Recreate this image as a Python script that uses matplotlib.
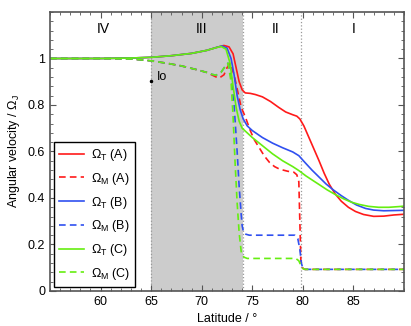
import matplotlib
matplotlib.use('Agg')
import matplotlib.pyplot as plt
from matplotlib.ticker import MultipleLocator, FormatStrFormatter

plt.rcParams['font.family'] = ['Liberation Sans', 'DejaVu Sans']
plt.rcParams['mathtext.fontset'] = 'custom'
plt.rcParams['mathtext.rm'] = 'Liberation Sans'
plt.rcParams['mathtext.it'] = 'Liberation Sans'
plt.rcParams['font.size'] = 9

# Omega_T, solid lines
lat_TA = [55, 60, 63, 65, 67, 69, 70.5, 71.5, 72.2, 72.7, 73.1, 73.4, 73.7, 74.0, 74.3, 74.8,
          75.3, 76, 76.8, 77.6, 78.3, 79.0, 79.4, 79.7, 80.1, 80.6, 81.1, 81.6, 82.1, 82.6,
          83.2, 83.8, 84.5, 85.2, 86.0, 87.0, 88.0, 89.0, 90]
om_TA = [1.0, 1.0, 1.002, 1.005, 1.012, 1.022, 1.035, 1.048, 1.056, 1.05, 1.02, 0.96, 0.90,
         0.865, 0.852, 0.85, 0.845, 0.835, 0.815, 0.79, 0.77, 0.758, 0.752, 0.74, 0.71, 0.66,
         0.61, 0.56, 0.507, 0.46, 0.417, 0.386, 0.36, 0.342, 0.329, 0.321, 0.322, 0.327, 0.33]

lat_TB = [55, 60, 63, 65, 67, 69, 70.5, 71.5, 72.0, 72.5, 72.9, 73.2, 73.5, 73.8, 74.1, 74.5,
          75.0, 76.0, 77.0, 78.0, 79.0, 79.6, 80.2, 80.9, 81.6, 82.3, 83.0, 83.8, 84.5, 85.3,
          86.2, 87.0, 88.0, 89.0, 90]
om_TB = [1.0, 1.0, 1.002, 1.005, 1.012, 1.022, 1.035, 1.048, 1.054, 1.045, 1.0, 0.93, 0.84,
         0.78, 0.74, 0.71, 0.69, 0.66, 0.636, 0.616, 0.598, 0.582, 0.553, 0.52, 0.49, 0.46,
         0.435, 0.41, 0.39, 0.37, 0.355, 0.348, 0.345, 0.346, 0.347]

lat_TC = [55, 60, 63, 65, 67, 69, 70.5, 71.3, 71.9, 72.4, 72.8, 73.1, 73.4, 73.7, 74.0, 74.5,
          75.0, 76.0, 77.0, 78.0, 79.0, 79.6, 80.3, 81.0, 81.6, 82.4, 83.2, 84.0, 84.8, 85.6,
          86.5, 87.5, 88.5, 89.5, 90]
om_TC = [1.0, 1.0, 1.002, 1.005, 1.012, 1.022, 1.035, 1.045, 1.052, 1.04, 0.98, 0.88, 0.79,
         0.73, 0.70, 0.68, 0.66, 0.625, 0.59, 0.56, 0.535, 0.518, 0.495, 0.475, 0.458, 0.435,
         0.415, 0.397, 0.382, 0.372, 0.364, 0.36, 0.36, 0.363, 0.365]

# Omega_M, dashed lines
lat_MA = [55, 60, 63, 65, 66.5, 68, 69.5, 70.5, 71.2, 71.7, 72.2, 72.5, 72.8, 73.2, 73.6, 73.9,
          74.3, 74.8, 75.2, 75.7, 76.2, 76.7, 77.2, 77.7, 78.5, 79.1, 79.4, 79.6, 79.7, 79.8,
          80.0, 80.2, 90]
om_MA = [1.0, 1.0, 0.998, 0.99, 0.98, 0.968, 0.952, 0.94, 0.925, 0.915, 0.93, 0.96, 0.98,
         0.93, 0.85, 0.79, 0.75, 0.69, 0.65, 0.615, 0.58, 0.553, 0.535, 0.524, 0.515, 0.511,
         0.5, 0.47, 0.3, 0.13, 0.097, 0.093, 0.093]

lat_MB = [55, 60, 63, 65, 66.5, 68, 69.5, 70.5, 71.0, 71.4, 71.9, 72.3, 72.6, 72.9, 73.2, 73.5,
          73.7, 73.9, 74.0, 74.1, 74.3, 74.7, 75.5, 79.2, 79.5, 79.7, 79.85, 80.0, 80.2, 90]
om_MB = [1.0, 1.0, 0.998, 0.99, 0.98, 0.968, 0.952, 0.94, 0.932, 0.928, 0.94, 0.965, 0.98,
         0.93, 0.8, 0.6, 0.45, 0.33, 0.28, 0.26, 0.245, 0.24, 0.24, 0.24, 0.225, 0.18, 0.12,
         0.097, 0.093, 0.093]

lat_MC = [55, 60, 63, 65, 66.5, 68, 69.5, 70.5, 71.0, 71.4, 71.9, 72.3, 72.6, 72.9, 73.1, 73.3,
          73.5, 73.7, 73.9, 74.0, 74.2, 74.5, 75.0, 79.3, 79.6, 79.8, 80.0, 80.2, 90]
om_MC = [1.0, 1.0, 0.998, 0.99, 0.98, 0.968, 0.952, 0.94, 0.932, 0.928, 0.94, 0.965, 0.98,
         0.9, 0.75, 0.55, 0.38, 0.25, 0.17, 0.155, 0.145, 0.14, 0.14, 0.14, 0.13, 0.11, 0.097,
         0.093, 0.093]

regions = ['IV', 'III', 'II', 'I']
region_x = [60.3, 70.0, 77.3, 85.0]
bounds = [65.0, 74.1, 79.8]
io_lat, io_val = 65.0, 0.904

red, blue, green = '#ff1a1a', '#3050f0', '#66ee11'

fig = plt.figure(figsize=(4.11, 3.26), dpi=100)
ax = fig.add_axes([0.1217, 0.1074, 0.8613, 0.8558])

ax.axvspan(bounds[0], bounds[1], color='#cccccc', lw=0, zorder=0)
for b in bounds:
    ax.axvline(b, color='#999999', ls=':', lw=0.9, zorder=1)

lw = 1.2
dash = (4, 2.5)
ax.plot(lat_TA, om_TA, color=red, lw=lw, label=r'$\Omega_T$ (A)')
ax.plot(lat_MA, om_MA, color=red, lw=lw, ls='--', dashes=dash, label=r'$\Omega_M$ (A)')
ax.plot(lat_TB, om_TB, color=blue, lw=lw, label=r'$\Omega_T$ (B)')
ax.plot(lat_MB, om_MB, color=blue, lw=lw, ls='--', dashes=dash, label=r'$\Omega_M$ (B)')
ax.plot(lat_TC, om_TC, color=green, lw=lw, label=r'$\Omega_T$ (C)')
ax.plot(lat_MC, om_MC, color=green, lw=lw, ls='--', dashes=dash, label=r'$\Omega_M$ (C)')

for name, x in zip(regions, region_x):
    ax.text(x, 1.125, name, ha='center', va='center', fontsize=10)

ax.plot(io_lat, io_val, 'k.', ms=3)
ax.text(io_lat + 0.6, io_val + 0.015, 'Io', ha='left', va='center', fontsize=9)

ax.set_xlim(55, 90)
ax.set_ylim(0, 1.2)
ax.set_xticks([60, 65, 70, 75, 80, 85])
ax.set_yticks([0, 0.2, 0.4, 0.6, 0.8, 1])
ax.yaxis.set_major_formatter(FormatStrFormatter('%g'))
ax.xaxis.set_minor_locator(MultipleLocator(1))
ax.yaxis.set_minor_locator(MultipleLocator(0.04))
ax.tick_params(which='both', direction='in', top=True, right=True, color='#555555')
ax.tick_params(which='major', length=4)
ax.tick_params(which='minor', length=2)
for s in ax.spines.values():
    s.set_color('#555555')
    s.set_linewidth(1.2)

ax.set_xlabel('Latitude / °')
ax.set_ylabel(r'Angular velocity / $\Omega_J$')

leg = ax.legend(loc='lower left', bbox_to_anchor=(0.012, 0.015), fancybox=False,
                edgecolor='black', framealpha=1, handlelength=2.0, handletextpad=0.5,
                labelspacing=0.62, borderpad=0.4, borderaxespad=0, fontsize=9)
leg.get_frame().set_linewidth(1.0)

plt.savefig('out.png', dpi=100)
